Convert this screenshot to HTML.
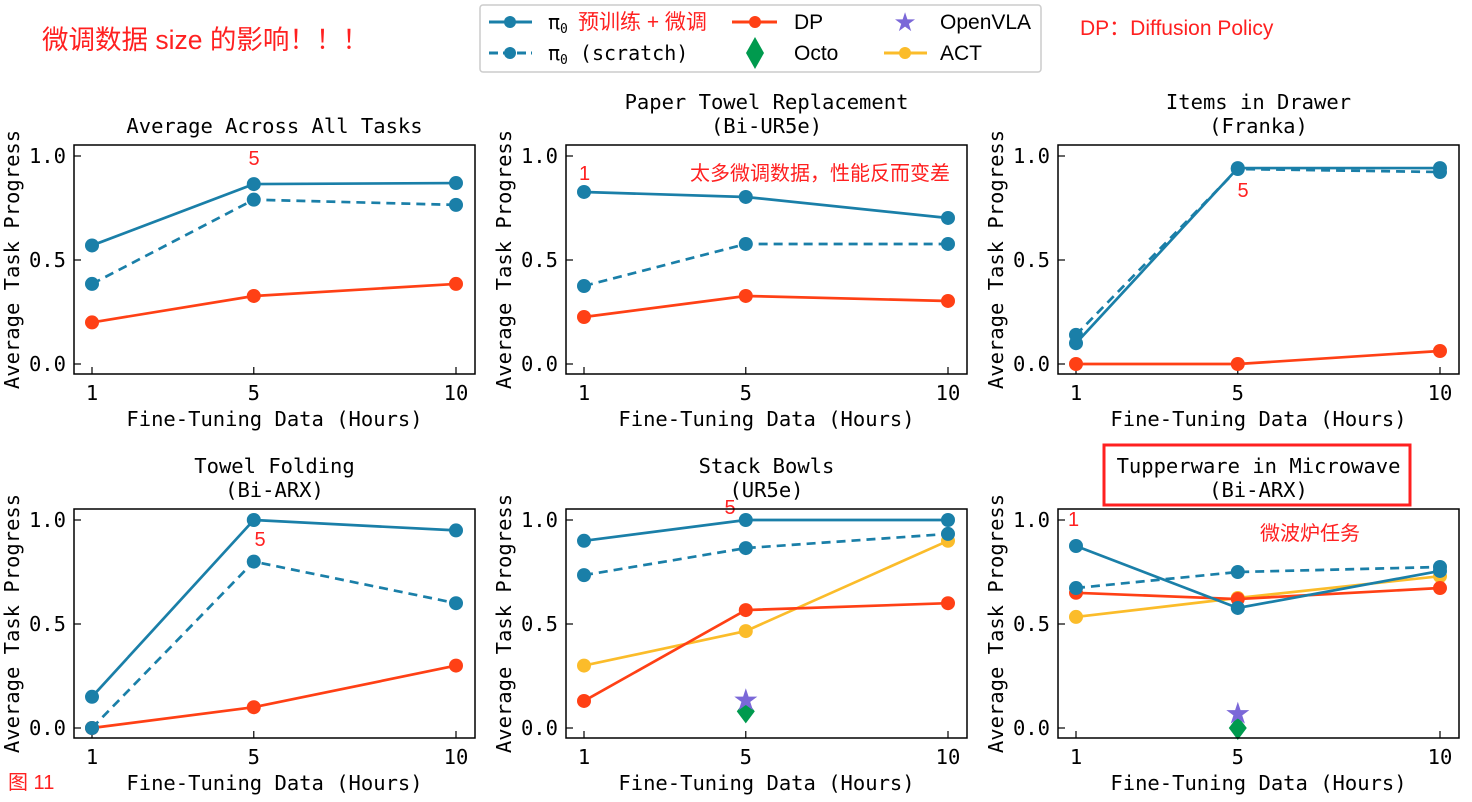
<!DOCTYPE html>
<html><head><meta charset="utf-8"><style>
html,body{margin:0;padding:0;background:#fff;}
svg{display:block;}
.mono{font-family:"DejaVu Sans Mono","Liberation Mono",monospace;}
.cjk{font-family:"Liberation Sans","Noto Sans CJK SC",sans-serif;}
</style></head><body>
<svg id="chart" width="1472" height="802" xmlns="http://www.w3.org/2000/svg">
<text x="42" y="49" class="cjk" font-size="26.5" fill="#ff2020">微调数据 size 的影响！！！</text>
<text x="1080" y="35" class="cjk" font-size="21" fill="#ff2020">DP：Diffusion Policy</text>
<text x="8" y="789" class="cjk" font-size="20" fill="#ff2020">图 11</text>
<g>
<rect x="480" y="5" width="561" height="67" rx="3" fill="#fff" stroke="#ccc" stroke-width="1.5"/>
<line x1="489" y1="22" x2="532" y2="22" stroke="#1a7fa8" stroke-width="3"/><circle cx="510" cy="22" r="6" fill="#1a7fa8"/>
<text x="548" y="29" class="mono" font-size="20">π<tspan font-size="13" dy="4">0</tspan></text>
<text x="578" y="29" class="cjk" font-size="21" fill="#ff2020">预训练 + 微调</text>
<line x1="489" y1="53" x2="532" y2="53" stroke="#1a7fa8" stroke-width="3" stroke-dasharray="9,5"/><circle cx="510" cy="53" r="6" fill="#1a7fa8"/>
<text x="548" y="60" class="mono" font-size="20">π<tspan font-size="13" dy="4">0</tspan><tspan dy="-4"> (scratch)</tspan></text>
<line x1="732" y1="22" x2="777" y2="22" stroke="#ff4015" stroke-width="3"/><circle cx="755" cy="22" r="6" fill="#ff4015"/>
<text x="794" y="29" class="cjk" font-size="21">DP</text>
<polygon points="755,37 764,53 755,69 746,53" fill="#009a4e"/>
<text x="794" y="60" class="cjk" font-size="21">Octo</text>
<text x="905" y="31" font-size="26" fill="#7b68d8" text-anchor="middle">★</text>
<text x="940" y="29" class="cjk" font-size="21">OpenVLA</text>
<line x1="884" y1="53" x2="927" y2="53" stroke="#fbbc2a" stroke-width="3"/><circle cx="905" cy="53" r="6" fill="#fbbc2a"/>
<text x="940" y="60" class="cjk" font-size="21">ACT</text>
</g>
<rect x="1104" y="445" width="306" height="60" fill="none" stroke="#ff2020" stroke-width="3"/>
<text x="579" y="180" class="cjk" font-size="20" fill="#ff2020">1</text>
<text x="690" y="180" class="cjk" font-size="20" fill="#ff2020">太多微调数据，性能反而变差</text>
<text x="254" y="165" class="cjk" font-size="20" fill="#ff2020" text-anchor="middle">5</text>
<text x="1243" y="197" class="cjk" font-size="20" fill="#ff2020" text-anchor="middle">5</text>
<text x="260" y="546" class="cjk" font-size="20" fill="#ff2020" text-anchor="middle">5</text>
<text x="730" y="514" class="cjk" font-size="20" fill="#ff2020" text-anchor="middle">5</text>
<text x="1068" y="526" class="cjk" font-size="20" fill="#ff2020">1</text>
<text x="1260" y="540" class="cjk" font-size="20" fill="#ff2020">微波炉任务</text>
</svg>
<script>
const xCats = [1, 5, 10];
const yTicks = [0, 0.5, 1.0];
const yTickLabels = ["0.0", "0.5", "1.0"];
const titles = [["Average Across All Tasks"],["Paper Towel Replacement","(Bi-UR5e)"],["Items in Drawer","(Franka)"],["Towel Folding","(Bi-ARX)"],["Stack Bowls","(UR5e)"],["Tupperware in Microwave","(Bi-ARX)"]];
const pi0 = [[0.57,0.865,0.87],[0.827,0.803,0.702],[0.10,0.942,0.942],[0.15,1.0,0.95],[0.90,1.0,1.0],[0.875,0.577,0.755]];
const pi0Scratch = [[0.385,0.79,0.765],[0.375,0.577,0.577],[0.14,0.9375,0.923],[0.0,0.80,0.60],[0.735,0.865,0.933],[0.673,0.75,0.774]];
const dp = [[0.20,0.327,0.385],[0.226,0.327,0.303],[0.0,0.0,0.0625],[0.0,0.10,0.30],[0.13,0.567,0.60],[0.65,0.62,0.673]];
const act = [null,null,null,null,[0.30,0.466,0.90],[0.534,0.625,0.73]];
const openvla = [null,null,null,null,0.135,0.07];
const octo = [null,null,null,null,0.08,0.0];

const NS="http://www.w3.org/2000/svg";
const svg=document.getElementById('chart');
function mk(tag,attrs,parent){const e=document.createElementNS(NS,tag);for(const k in attrs)e.setAttribute(k,attrs[k]);(parent||svg).appendChild(e);return e;}
const BLUE="#1a7fa8",RED="#ff4015",YEL="#fbbc2a",GRN="#009a4e",PUR="#7b68d8";
const FS=20.5;
const lefts=[74,566,1058], tops=[145,509], W=401, H=229;
for(let p=0;p<6;p++){
  const L=lefts[p%3], T=tops[Math.floor(p/3)];
  const g=mk('g',{});
  
  
  const xs=v=>L+18+(v-1)*(364/9);
  const ys=v=>T+219-v*208;
  const tl=titles[p];
  tl.forEach((t,i)=>{const e=mk('text',{x:L+W/2,y:T-(tl.length-i-1)*24-12,'text-anchor':'middle','font-size':FS,class:'mono'},g);e.textContent=t;
    
    });
  yTicks.forEach((v,i)=>{mk('line',{x1:L,x2:L+7,y1:ys(v),y2:ys(v),stroke:'#000','stroke-width':1.2},g);
    const e=mk('text',{x:L-8,y:ys(v)+7,'text-anchor':'end','font-size':FS,class:'mono'},g);e.textContent=yTickLabels[i];
    
    });
  xCats.forEach(v=>{mk('line',{x1:xs(v),x2:xs(v),y1:T+H,y2:T+H-7,stroke:'#000','stroke-width':1.2},g);
    const e=mk('text',{x:xs(v),y:T+H+26,'text-anchor':'middle','font-size':FS,class:'mono'},g);e.textContent=String(v);
    
    });
  const xl=mk('text',{x:L+W/2,y:T+H+52,'text-anchor':'middle','font-size':FS,class:'mono'},g);xl.textContent='Fine-Tuning Data (Hours)';
  
  
  const yl=mk('text',{x:0,y:0,'text-anchor':'middle','font-size':FS,class:'mono',transform:`translate(${L-55},${T+H/2}) rotate(-90)`},g);yl.textContent='Average Task Progress';
  
  
  function series(vals,color,dash,name){
    if(!vals)return;
    const pts=vals.map((v,i)=>xs(xCats[i])+','+ys(v)).join(' ');
    const pl=mk('polyline',{points:pts,fill:'none',stroke:color,'stroke-width':2.7,'stroke-dasharray':dash||'none'},g);
    
    
    vals.forEach((v,i)=>{const c=mk('circle',{cx:xs(xCats[i]),cy:ys(v),r:7,fill:color},g);
      
      });
  }
  series(act[p],YEL,null,'act');
  series(dp[p],RED,null,'dp');
  series(pi0Scratch[p],BLUE,'9,6','pi0-scratch');
  series(pi0[p],BLUE,null,'pi0');
  if(octo[p]!==null){const x=xs(5),y=ys(octo[p]);
    const d=mk('polygon',{points:`${x},${y-12} ${x+9},${y} ${x},${y+12} ${x-9},${y}`,fill:GRN},g);
    
    }
  if(openvla[p]!==null){const x=xs(5),y=ys(openvla[p]);
    const s=mk('text',{x:x,y:y+10,'text-anchor':'middle','font-size':30,fill:PUR},g);s.textContent='★';
    
    }
  const fr=mk('rect',{x:L,y:T,width:W,height:H,fill:'none',stroke:'#000','stroke-width':1.5},g);
  
  
}
</script>
</body></html>
